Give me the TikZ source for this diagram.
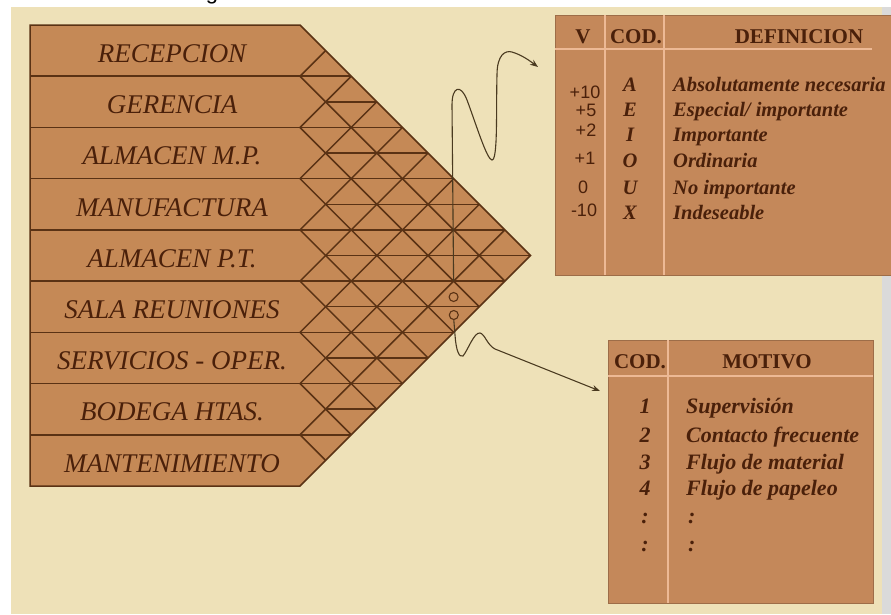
\documentclass[tikz,border=0pt]{standalone}
\usepackage{fontspec}
\setmainfont{Liberation Serif}
\newfontfamily\arialf{Liberation Sans}
\usetikzlibrary{arrows.meta}
\definecolor{parch}{HTML}{EEE1B8}
\definecolor{tanfill}{HTML}{C58956}
\definecolor{tabfill}{HTML}{C4885A}
\definecolor{latc}{HTML}{5A3214}
\definecolor{txtc}{HTML}{4A200A}
\definecolor{litec}{HTML}{EDB995}
\definecolor{wirec}{HTML}{4A3A20}
\definecolor{edgec}{HTML}{DADADA}
\tikzset{
  latline/.style={draw=latc, line width=1.5pt},
  rowlabel/.style={inner sep=0pt, text=txtc, font=\fontsize{27}{30}\selectfont\itshape},
  tabbox/.style={draw=tabfill!80!black, line width=0.6pt, fill=tabfill, inner sep=0pt, anchor=north west},
  liteline/.style={draw=litec, line width=2pt},
  headtxt/.style={inner sep=0pt, text=txtc, font=\fontsize{21}{24}\selectfont\bfseries},
  codetxt/.style={inner sep=0pt, text=txtc, anchor=base, font=\fontsize{20.5}{24}\selectfont\bfseries\itshape},
  deftxt/.style={inner sep=0pt, text=txtc, anchor=base west, font=\fontsize{20.5}{24}\selectfont\bfseries\itshape},
  valtxt/.style={inner sep=0pt, text=txtc, anchor=base, font=\fontsize{18}{20}\selectfont\arialf},
  mcode/.style={inner sep=0pt, text=txtc, anchor=base, font=\fontsize{22}{24}\selectfont\bfseries\itshape},
  mtxt/.style={inner sep=0pt, text=txtc, anchor=base west, font=\fontsize{22}{24}\selectfont\bfseries\itshape},
  wire/.style={draw=wirec, line width=1.1pt},
  ring/.style={circle, draw=latc, line width=1.1pt, minimum size=9pt, inner sep=0pt},
}
\begin{document}
\begin{tikzpicture}[x=1pt,y=-1pt]
\useasboundingbox (0,0) rectangle (891,614);
% background
\fill[white] (0,0) rectangle (891,614);
\fill[parch] (11,7) rectangle (882,614);
\fill[edgec] (882,7) rectangle (891,614);
\node[inner sep=0pt, anchor=base, font=\fontsize{22}{24}\selectfont\arialf] (cut) at (212,-1) {g};
% relationship chart
\fill[tanfill] (30,25) -- (300,25) -- (530.5,255.5) -- (300,486) -- (30,486) -- cycle;
\begin{scope}
\clip (30,25) -- (300,25) -- (530.5,255.5) -- (300,486) -- (30,486) -- cycle;
\foreach \k in {1,...,8} {
  \draw[latline] (300,{25+51.222*\k}) -- ++(300,300);
  \draw[latline] (300,{25+51.222*\k}) -- ++(300,-300);
}
\foreach \m in {2,4,...,16} { \draw[latline] (30,{25+25.611*\m}) -- (600,{25+25.611*\m}); }
\foreach \m in {3,5,...,15} { \draw[latline] (325.6,{25+25.611*\m}) -- (600,{25+25.611*\m}); }
\end{scope}
\draw[latline] (30,25) -- (300,25) -- (530.5,255.5) -- (300,486) -- (30,486) -- cycle;
% row labels
\foreach \t [count=\i from 0] in {RECEPCION,GERENCIA,ALMACEN M.P.,MANUFACTURA,ALMACEN P.T.,SALA REUNIONES,SERVICIOS - OPER.,BODEGA HTAS.,MANTENIMIENTO} {
  \node[rowlabel] (r\i) at (172,{25+51.222*(\i+0.5)+3}) {\t};
}
% top table
\node[tabbox, minimum width=336pt, minimum height=260pt] (deftab) at (555,15) {};
\draw[liteline] (605,15) -- (605,275);
\draw[liteline] (664,15) -- (664,275);
\draw[liteline] (555,49) -- (872,49);
\node[headtxt] (hv) at (583,37) {V};
\node[headtxt] (hcod) at (636,37) {COD.};
\node[headtxt] (hdef) at (799,37) {DEFINICION};
\node[valtxt] (v1) at (585,98.5) {+10};
\node[valtxt] (v2) at (586,116.5) {+5};
\node[valtxt] (v3) at (586,136.5) {+2};
\node[valtxt] (v4) at (585,164.5) {+1};
\node[valtxt] (v5) at (583,193.5) {0};
\node[valtxt] (v6) at (584,216.5) {-10};
\node[codetxt] (c1) at (630,91) {A};
\node[deftxt] (d1) at (673,91) {Absolutamente necesaria};
\node[codetxt] (c2) at (630,116) {E};
\node[deftxt] (d2) at (673,116) {Especial/ importante};
\node[codetxt] (c3) at (630,141) {I};
\node[deftxt] (d3) at (673,141) {Importante};
\node[codetxt] (c4) at (630,167) {O};
\node[deftxt] (d4) at (673,167) {Ordinaria};
\node[codetxt] (c5) at (630,194) {U};
\node[deftxt] (d5) at (673,194) {No importante};
\node[codetxt] (c6) at (630,219) {X};
\node[deftxt] (d6) at (673,219) {Indeseable};
% bottom table
\node[tabbox, minimum width=265pt, minimum height=263pt] (mottab) at (608,340) {};
\draw[liteline] (668,340) -- (668,603);
\draw[liteline] (608,376) -- (873,376);
\node[headtxt] (mcodh) at (640,362) {COD.};
\node[headtxt] (mmoth) at (767,362) {MOTIVO};
\node[mcode] (m1) at (645,413) {1};
\node[mtxt] (t1) at (686,413) {Supervisión};
\node[mcode] (m2) at (645,442) {2};
\node[mtxt] (t2) at (686,442) {Contacto frecuente};
\node[mcode] (m3) at (645,469) {3};
\node[mtxt] (t3) at (686,469) {Flujo de material};
\node[mcode] (m4) at (645,495) {4};
\node[mtxt] (t4) at (686,495) {Flujo de papeleo};
\node[mcode] (m5) at (645,523) {:};
\node[mtxt] (t5) at (688,523) {:};
\node[mcode] (m6) at (645,551) {:};
\node[mtxt] (t6) at (688,551) {:};
% markers and connectors
\coordinate (vx) at (453.6,281.1);
\node[ring] (o1) at (453.6,297) {};
\node[ring] (o2) at (453.8,315) {};
\coordinate (tip1) at (538,67);
\coordinate (tip2) at (600,391);
\draw[wire, -{Stealth[length=8pt,width=6pt]}] (vx) -- (452,105)
  .. controls (452,86) and (461,84) .. (467,100)
  .. controls (476,124) and (487,160) .. (492,160)
  .. controls (498,160) and (496,110) .. (497,75)
  .. controls (497,55) and (505,50) .. (512,52)
  .. controls (522,55) and (530,61) .. (tip1);
\draw[wire, -{Stealth[length=8pt,width=6pt]}] (o2.south) -- (455,335)
  .. controls (456,350) and (459,358) .. (463,356)
  .. controls (468,350) and (474,332) .. (480,333)
  .. controls (485,334) and (487,345) .. (495,349)
  -- (tip2);
\end{tikzpicture}
\end{document}
